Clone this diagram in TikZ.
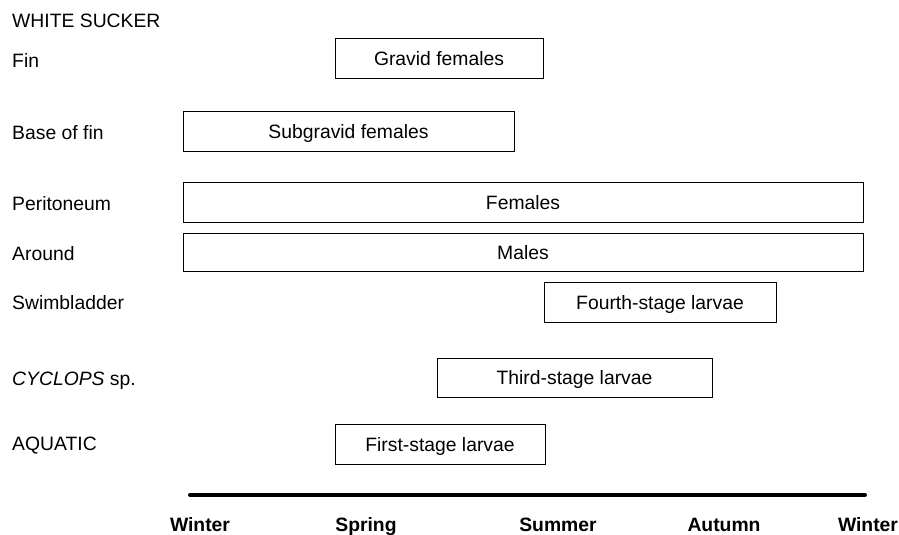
\documentclass[tikz,border=0pt]{standalone}
\usepackage{fontspec}
\setmainfont{Liberation Sans}
\begin{document}
\begin{tikzpicture}[x=0.03cm,y=-0.03cm,
    bar/.style={draw,line width=0.7pt,minimum height=1.2cm,inner sep=0pt,text height=12pt,text depth=0pt,font=\fontsize{16.5}{19}\selectfont},
    tissue/.style={anchor=west,inner sep=0pt,text height=12pt,text depth=0pt,font=\fontsize{16.5}{19}\selectfont},
    season/.style={inner sep=0pt,text height=12pt,text depth=0pt,font=\fontsize{16.5}{19}\selectfont\bfseries}]
  \useasboundingbox (0,0) rectangle (899,535);
  % left labels
  \node[tissue] (host)  at (12,20)  {WHITE SUCKER};
  \node[tissue] (fin)   at (12,60)  {Fin};
  \node[tissue] (base)  at (12,132) {Base of fin};
  \node[tissue] (perit) at (12,203) {Peritoneum};
  \node[tissue] (round) at (12,253) {Around};
  \node[tissue] (swim)  at (12,302) {Swimbladder};
  \node[tissue] (cycl)  at (12,378) {\textit{CYCLOPS} sp.};
  \node[tissue] (aqua)  at (12,443) {AQUATIC};
  % stage bars
  \node[bar,minimum width=6.24cm] (gravid)    at (439,58)    {Gravid females};
  \node[bar,minimum width=9.93cm] (subgravid) at (348.5,131.5) {Subgravid females};
  \node[bar,minimum width=20.4cm] (females)   at (523,202)   {Females};
  \node[bar,minimum width=20.4cm,minimum height=1.14cm] (males) at (523,252) {Males};
  \node[bar,minimum width=6.96cm] (fourth)    at (660,302)   {Fourth-stage larvae};
  \node[bar,minimum width=8.25cm,minimum height=1.17cm] (third) at (574.5,377.5) {Third-stage larvae};
  \node[bar,minimum width=6.3cm]  (first)     at (440,444)   {First-stage larvae};
  % time axis
  \coordinate (start) at (190,495);
  \coordinate (stop)  at (865,495);
  \draw[line width=3.4pt,line cap=round] (start) -- (stop);
  \foreach \name/\x/\txt in {w1/200/Winter,sp/366/Spring,su/558/Summer,au/724/Autumn,w2/868/Winter}
    \node[season] (\name) at (\x,524) {\txt};
\end{tikzpicture}
\end{document}
